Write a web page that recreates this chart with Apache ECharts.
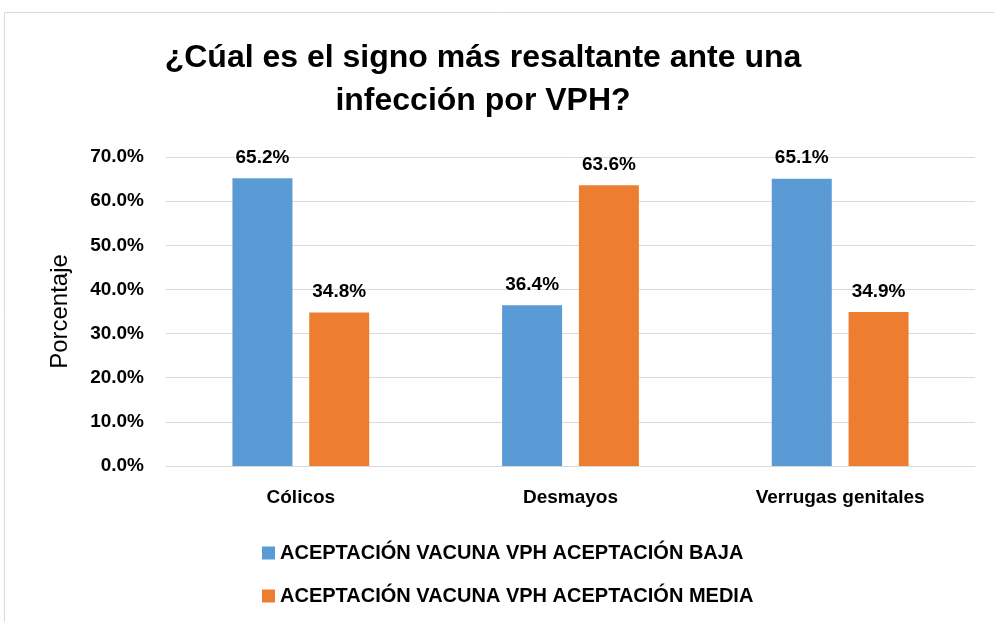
<!DOCTYPE html>
<html>
<head>
<meta charset="utf-8">
<script src="https://cdn.jsdelivr.net/npm/echarts@6/dist/echarts.min.js"></script>
<style>html,body{margin:0;padding:0;background:#fff}#c{width:994px;height:622px}</style>
</head>
<body>
<div id="c"></div>
<script>
const categories = ['Cólicos', 'Desmayos', 'Verrugas genitales'];
const seriesNames = ['ACEPTACIÓN VACUNA VPH ACEPTACIÓN BAJA', 'ACEPTACIÓN VACUNA VPH ACEPTACIÓN MEDIA'];
const bajaValues = [65.2, 36.4, 65.1];
const mediaValues = [34.8, 63.6, 34.9];
const titleText = '¿Cúal es el signo más resaltante ante una\ninfección por VPH?';
const yAxisName = 'Porcentaje';

const FONT = '"Liberation Sans", Arial, sans-serif';
const chart = echarts.init(document.getElementById('c'));
const labelCfg = {
  show: true, position: 'top', distance: 11,
  formatter: p => p.value.toFixed(1) + '%',
  fontFamily: FONT, fontWeight: 'bold', fontSize: 19, color: '#000'
};
chart.setOption({
  animation: false,
  graphic: [{
    type: 'rect', shape: {x: 4.5, y: 12.5, width: 1100, height: 700},
    style: {fill: 'none', stroke: '#d9d9d9', lineWidth: 1}, silent: true
  }],
  title: {
    text: titleText, left: 478, top: 32, textAlign: 'center',
    textStyle: {fontFamily: FONT, fontWeight: 'bold', fontSize: 32, color: '#000', lineHeight: 43}
  },
  legend: {
    orient: 'vertical', left: 257, top: 538, itemGap: 23,
    itemWidth: 13, itemHeight: 13, icon: 'rect',
    textStyle: {fontFamily: FONT, fontWeight: 'bold', fontSize: 20, color: '#000'},
    data: seriesNames
  },
  grid: {left: 166, right: 19, top: 157, bottom: 156},
  xAxis: {
    type: 'category', data: categories,
    axisLine: {lineStyle: {color: '#d9d9d9'}}, axisTick: {show: false},
    axisLabel: {fontFamily: FONT, fontWeight: 'bold', fontSize: 19, color: '#000', margin: 22}
  },
  yAxis: {
    type: 'value', min: 0, max: 70, interval: 10,
    name: yAxisName, nameLocation: 'middle', nameGap: 94, nameRotate: 90,
    nameTextStyle: {fontFamily: FONT, fontSize: 24, color: '#000'},
    axisLine: {show: false}, axisTick: {show: false},
    axisLabel: {formatter: v => v.toFixed(1) + '%', fontFamily: FONT, fontWeight: 'bold', fontSize: 19, color: '#000', margin: 22},
    splitLine: {lineStyle: {color: '#d9d9d9', width: 1}}
  },
  series: [
    {name: seriesNames[0], type: 'bar', data: bajaValues, barWidth: 60, barGap: '28%',
     itemStyle: {color: '#5B9BD5'}, label: labelCfg},
    {name: seriesNames[1], type: 'bar', data: mediaValues, barWidth: 60,
     itemStyle: {color: '#ED7D31'}, label: labelCfg}
  ]
});
</script>
</body>
</html>
